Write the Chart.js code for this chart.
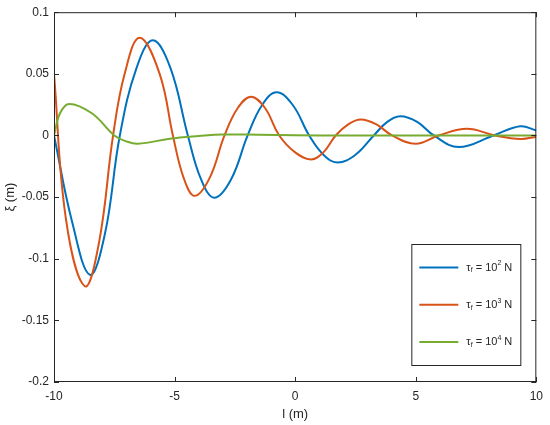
<!DOCTYPE html>
<html>
<head>
<meta charset="utf-8">
<script src="https://cdn.jsdelivr.net/npm/chart.js@4"></script>
<style>
  html, body { margin: 0; padding: 0; background: #fff; }
</style>
</head>
<body>
<canvas id="myChart" width="550" height="425"></canvas>
<script>
  // tension tau_f = 10^2 N (blue)
  const l_1e2 = [-10, -9.25, -8.51, -7.89, -7.27, -6.58, -5.9, -5.17, -4.45, -3.9, -3.35, -2.66, -1.97, -1.37, -0.77, -0.1, 0.58, 1.17, 1.75, 2.5, 3.26, 3.82, 4.37, 5.06, 5.75, 6.78, 8.22, 9.33, 10];
  const xi_1e2 = [0, -0.07, -0.113, -0.08, 0, 0.0546, 0.0772, 0.0546, 0, -0.0357, -0.0505, -0.0357, 0, 0.0247, 0.035, 0.0247, 0, -0.0156, -0.022, -0.0156, 0, 0.011, 0.0156, 0.011, 0, -0.0094, 0, 0.0075, 0.004];

  // tau_f = 10^3 N (orange)
  const l_1e3 = [-10, -9.5, -8.72, -8.13, -7.55, -7.07, -6.45, -5.62, -5.07, -4.62, -4.17, -3.55, -2.93, -2.38, -1.83, -1.25, -0.66, 0, 0.65, 1.17, 1.68, 2.2, 2.72, 3.37, 4.02, 5.0, 5.95, 7.12, 8.29, 9.35, 10];
  const xi_1e3 = [0.05, -0.0685, -0.1223, -0.0865, 0, 0.05, 0.0793, 0.05, 0, -0.0346, -0.049, -0.0346, 0, 0.0223, 0.0315, 0.0223, 0, -0.0137, -0.0194, -0.0137, 0, 0.009, 0.0129, 0.009, 0, -0.0067, 0, 0.0054, 0, -0.0028, -0.001];

  // tau_f = 10^4 N (green)
  const l_1e4 = [-10, -9.75, -9.37, -8.43, -7.5, -7.0, -6.52, -5.2, -4, -3, -1.5, 0, 2, 10];
  const xi_1e4 = [0, 0.018, 0.0256, 0.018, 0, -0.0048, -0.0067, -0.0027, -0.0005, 0.0008, 0.0006, 0.0002, 0, 0];

  const tauExp = ['2', '3', '4'];
  const colors = ['#0072BD', '#D95319', '#77AC30'];

  const xTicks = [-10, -5, 0, 5, 10];
  const yTicks = [-0.2, -0.15, -0.1, -0.05, 0, 0.05, 0.1];

  const ink = '#262626';
  const font = 'Liberation Sans, Arial, sans-serif';

  const pts = (xs, ys) => xs.map((x, i) => ({ x: x, y: ys[i] }));

  // box + inward ticks on all 4 sides, like matlab
  const boxTicks = {
    id: 'boxTicks',
    afterDraw(chart) {
      const { ctx, chartArea: a } = chart;
      const sx = chart.scales.x, sy = chart.scales.y;
      ctx.save();
      ctx.strokeStyle = ink;
      ctx.lineWidth = 1;
      ctx.strokeRect(a.left + 0.5, a.top + 0.5, a.right - a.left - 1, a.bottom - a.top - 1);
      ctx.beginPath();
      xTicks.forEach(v => {
        const px = Math.round(sx.getPixelForValue(v)) + 0.5;
        ctx.moveTo(px, a.bottom); ctx.lineTo(px, a.bottom - 5);
        ctx.moveTo(px, a.top); ctx.lineTo(px, a.top + 5);
      });
      yTicks.forEach(v => {
        const py = Math.round(sy.getPixelForValue(v)) + 0.5;
        ctx.moveTo(a.left, py); ctx.lineTo(a.left + 5, py);
        ctx.moveTo(a.right, py); ctx.lineTo(a.right - 5, py);
      });
      ctx.stroke();
      ctx.restore();
    }
  };

  // legend with sub/superscripts (tau_f = 10^n N)
  const boxLegend = {
    id: 'boxLegend',
    afterDraw(chart) {
      const { ctx, chartArea: a } = chart;
      const w = 109, h = 121;
      const x0 = a.right - 16 - w, y0 = a.bottom - 17 - h;
      ctx.save();
      ctx.fillStyle = '#fff';
      ctx.fillRect(x0, y0, w, h);
      ctx.strokeStyle = ink;
      ctx.lineWidth = 1;
      ctx.strokeRect(x0 + 0.5, y0 + 0.5, w, h);
      chart.data.datasets.forEach((ds, i) => {
        const y = y0 + 23.5 + i * 37.2;
        ctx.strokeStyle = ds.borderColor;
        ctx.lineWidth = 2;
        ctx.beginPath();
        ctx.moveTo(x0 + 8, y); ctx.lineTo(x0 + 47, y);
        ctx.stroke();
        const parts = [
          { t: 'τ', s: 11, dy: 0 },
          { t: 'f', s: 7, dy: 3 },
          { t: ' = 10', s: 11, dy: 0 },
          { t: tauExp[i], s: 7, dy: -4 },
          { t: ' N', s: 11, dy: 0 }
        ];
        let x = x0 + 55;
        ctx.fillStyle = ink;
        ctx.textBaseline = 'middle';
        parts.forEach(p => {
          ctx.font = p.s + 'px ' + font;
          ctx.fillText(p.t, x, y + p.dy);
          x += ctx.measureText(p.t).width;
        });
      });
      ctx.restore();
    }
  };

  const config = {
    type: 'line',
    data: {
      datasets: [
        { label: 'τf = 10^2 N', data: pts(l_1e2, xi_1e2), borderColor: colors[0], order: 2 },
        { label: 'τf = 10^3 N', data: pts(l_1e3, xi_1e3), borderColor: colors[1], order: 1 },
        { label: 'τf = 10^4 N', data: pts(l_1e4, xi_1e4), borderColor: colors[2], order: 0 }
      ]
    },
    options: {
      responsive: false,
      animation: false,
      layout: { padding: { top: 11, right: 12, left: 0, bottom: 0 } },
      elements: {
        point: { radius: 0 },
        line: { borderWidth: 2, tension: 0.4, fill: false }
      },
      plugins: { legend: { display: false }, tooltip: { enabled: false } },
      scales: {
        x: {
          type: 'linear',
          min: -10, max: 10,
          afterBuildTicks: s => { s.ticks = xTicks.map(v => ({ value: v })); },
          afterFit: s => { s.height = 43; },
          grid: { display: false, drawTicks: false },
          border: { display: false },
          ticks: { color: ink, padding: 7, font: { family: font, size: 12 }, callback: v => String(v) },
          title: { display: true, text: 'l (m)', color: ink, font: { family: font, size: 13 }, padding: { top: 0, bottom: 3 } }
        },
        y: {
          min: -0.2, max: 0.1,
          afterBuildTicks: s => { s.ticks = yTicks.map(v => ({ value: v })); },
          afterFit: s => { s.width = 54; },
          grid: { display: false, drawTicks: false },
          border: { display: false },
          ticks: { color: ink, padding: 5, font: { family: font, size: 12 }, callback: v => String(Math.round(v * 100) / 100) },
          title: { display: true, text: 'ξ (m)', color: ink, font: { family: font, size: 13 }, padding: { top: 3, bottom: 0 } }
        }
      }
    },
    plugins: [boxTicks, boxLegend]
  };

  const myChart = new Chart(document.getElementById('myChart'), config);
</script>
</body>
</html>
